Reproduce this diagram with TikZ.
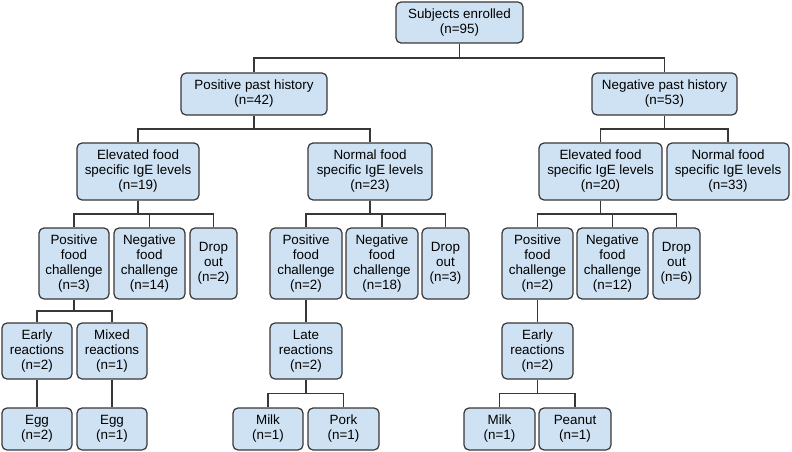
\documentclass[tikz,border=0pt]{standalone}
\usepackage{fontspec}
\setmainfont{Liberation Sans}
\usepackage{tikz}
\usetikzlibrary{calc}
\definecolor{boxfill}{RGB}{207,226,243}
\definecolor{boxline}{RGB}{55,55,55}
\tikzset{
    box/.style={draw=boxline, fill=boxfill, line width=1.2pt, rounded corners=5pt, align=center, inner sep=0pt,
        font=\fontsize{13.4}{15}\selectfont}, % 各个方框的样式
    sz/.style 2 args={minimum width=#1pt, minimum height=#2pt}, % 方框尺寸
    link/.style={draw=boxline, line width=1.2pt,
        to path={(\tikztostart) |- ($(\tikztostart)!0.5!(\tikztotarget)$) -| (\tikztotarget)}} % 折线连接
}
\begin{document}
\begin{tikzpicture}[x=1pt, y=-1pt]
    \useasboundingbox (0,0) rectangle (792,452);

    \node[box, sz={127}{41}] (root) at (459.5,22.5) {Subjects enrolled\\(n=95)};

    \node[box, sz={146}{42}] (pph) at (254,94) {Positive past history\\(n=42)};
    \node[box, sz={145}{42}] (nph) at (664.5,94) {Negative past history\\(n=53)};

    \node[box, sz={122}{57}] (eL) at (138,171.5) {Elevated food\\specific IgE levels\\(n=19)};
    \node[box, sz={124}{57}] (nL) at (370,171.5) {Normal food\\specific IgE levels\\(n=23)};
    \node[box, sz={123}{57}] (eR) at (600.5,171.5) {Elevated food\\specific IgE levels\\(n=20)};
    \node[box, sz={122}{57}] (nR) at (728,171.5) {Normal food\\specific IgE levels\\(n=33)};

    \node[box, sz={70}{71}] (pfcL) at (74,263.5) {Positive\\food\\challenge\\(n=3)};
    \node[box, sz={71}{71}] (nfcL) at (149.5,263.5) {Negative\\food\\challenge\\(n=14)};
    \node[box, sz={47}{71}] (doL) at (213.5,263.5) {Drop\\out\\(n=2)};
    \node[box, sz={72}{71}] (pfcM) at (306,263.5) {Positive\\food\\challenge\\(n=2)};
    \node[box, sz={72}{71}] (nfcM) at (382,263.5) {Negative\\food\\challenge\\(n=18)};
    \node[box, sz={47}{71}] (doM) at (445.5,263.5) {Drop\\out\\(n=3)};
    \node[box, sz={71}{71}] (pfcR) at (537.5,263.5) {Positive\\food\\challenge\\(n=2)};
    \node[box, sz={71}{71}] (nfcR) at (612.5,263.5) {Negative\\food\\challenge\\(n=12)};
    \node[box, sz={47}{71}] (doR) at (676.5,263.5) {Drop\\out\\(n=6)};

    \node[box, sz={70}{56}] (erL) at (37,351) {Early\\reactions\\(n=2)};
    \node[box, sz={70}{56}] (mrL) at (112,351) {Mixed\\reactions\\(n=1)};
    \node[box, sz={72}{56}] (lrM) at (306,351) {Late\\reactions\\(n=2)};
    \node[box, sz={71}{56}] (erR) at (537.5,351) {Early\\reactions\\(n=2)};

    \node[box, sz={70}{42}] (eggA) at (37,429) {Egg\\(n=2)};
    \node[box, sz={70}{42}] (eggB) at (112,429) {Egg\\(n=1)};
    \node[box, sz={70}{42}] (milkA) at (268,429) {Milk\\(n=1)};
    \node[box, sz={71}{42}] (pork) at (343.5,429) {Pork\\(n=1)};
    \node[box, sz={71}{42}] (milkB) at (499.5,429) {Milk\\(n=1)};
    \node[box, sz={72}{42}] (peanut) at (575,429) {Peanut\\(n=1)};

    \foreach \a/\b in {root/pph, root/nph, pph/eL, pph/nL, nph/eR, nph/nR,
        eL/pfcL, eL/nfcL, eL/doL, nL/pfcM, nL/nfcM, nL/doM, eR/pfcR, eR/nfcR, eR/doR,
        pfcL/erL, pfcL/mrL, pfcM/lrM, pfcR/erR,
        erL/eggA, mrL/eggB, lrM/milkA, lrM/pork, erR/milkB, erR/peanut}
        {\draw[link] (\a.south) to (\b.north);}
\end{tikzpicture}
\end{document}
